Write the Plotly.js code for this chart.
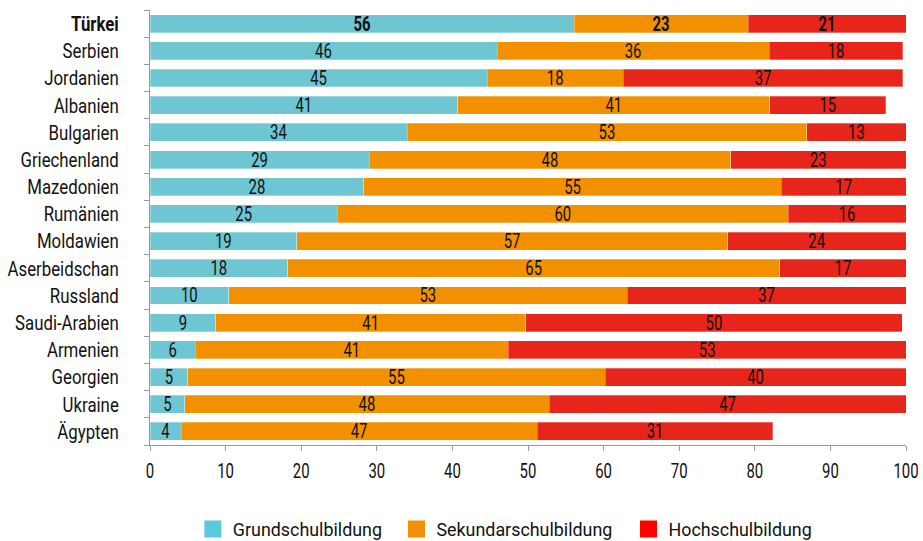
<!DOCTYPE html>
<html>
<head>
<meta charset="utf-8">
<script src="https://cdn.plot.ly/plotly-3.0.1.min.js"></script>
<style>
  html, body { margin: 0; padding: 0; background: #ffffff; }
  #chart { width: 923px; height: 541px; }
</style>
</head>
<body>
<div id="chart"></div>
<script>
// Categories (top to bottom)
const countries = ["Türkei", "Serbien", "Jordanien", "Albanien", "Bulgarien", "Griechenland",
  "Mazedonien", "Rumänien", "Moldawien", "Aserbeidschan", "Russland", "Saudi-Arabien",
  "Armenien", "Georgien", "Ukraine", "Ägypten"];

// Shares in percent
const grundschule = [56.1, 45.9, 44.6, 40.7, 34.0, 29.0, 28.3, 24.8, 19.4, 18.2, 10.4, 8.7, 6.0, 5.0, 4.6, 4.1];
const sekundar    = [23.0, 36.0, 18.0, 41.3, 52.9, 47.8, 55.2, 59.6, 57.0, 65.1, 52.7, 41.0, 41.4, 55.2, 48.2, 47.1];
const hochschule  = [20.9, 17.7, 37.0, 15.3, 13.1, 23.2, 16.5, 15.6, 23.6, 16.7, 36.9, 49.8, 52.6, 39.8, 47.2, 31.2];

const seriesNames = ["Grundschulbildung", "Sekundarschulbildung", "Hochschulbildung"];
const xTicks = [0, 10, 20, 30, 40, 50, 60, 70, 80, 90, 100];

const highlight = "Türkei";
const barColors = ["#6EC6D2", "#F39000", "#E8251A"];
const legendColors = ["#5BC8DC", "#F39000", "#FF0000"];
const FONT = "Roboto, 'Liberation Sans', sans-serif";

function labels(vals) {
  return vals.map((v, i) => countries[i] === highlight ? "<b>" + Math.round(v) + "</b>" : String(Math.round(v)));
}

const data = [grundschule, sekundar, hochschule].map((vals, k) => ({
  type: "bar",
  orientation: "h",
  name: seriesNames[k],
  y: countries,
  x: vals,
  text: labels(vals),
  texttemplate: "%{text}",
  textposition: "inside",
  insidetextanchor: "middle",
  constraintext: "none",
  textangle: 0,
  textfont: { family: FONT, size: 21, color: "#111111" },
  marker: { color: barColors[k], line: { width: 0.6, color: "rgba(255,255,255,0.5)" } },
  hoverinfo: "none"
}));

const layout = {
  width: 923,
  height: 541,
  barmode: "stack",
  bargap: 0.34,
  paper_bgcolor: "#ffffff",
  plot_bgcolor: "#ffffff",
  margin: { l: 150, r: 16.5, t: 10.4, b: 95.7 },
  font: { family: FONT, size: 21, color: "#111111" },
  showlegend: true,
  legend: {
    orientation: "h",
    x: 0.476, xanchor: "center",
    yref: "container", y: 0.022, yanchor: "middle",
    font: { family: FONT, size: 19, color: "#111111" },
    itemwidth: 30,
    tracegroupgap: 0,
    traceorder: "normal"
  },
  xaxis: {
    range: [0, 100],
    tickvals: xTicks,
    ticktext: xTicks.map(String),
    ticks: "outside",
    ticklen: 5,
    tickcolor: "#999999",
    showline: true,
    linecolor: "#999999",
    linewidth: 1,
    showgrid: false,
    zeroline: false,
    tickfont: { family: FONT, size: 21, color: "#111111" },
    ticklabelstandoff: 2,
    ticklabeloverflow: "allow",
    fixedrange: true
  },
  yaxis: {
    autorange: "reversed",
    type: "category",
    tickvals: countries,
    ticktext: countries.map(c => c === highlight ? "<b>" + c + "</b>" : c),
    ticks: "outside",
    tickson: "boundaries",
    ticklen: 5,
    tickcolor: "#999999",
    showline: true,
    linecolor: "#999999",
    linewidth: 1,
    showgrid: false,
    zeroline: false,
    tickfont: { family: FONT, size: 21, color: "#111111" },
    ticklabelstandoff: 26,
    fixedrange: true
  }
};

const gd = document.getElementById("chart");
Plotly.newPlot(gd, data, layout, { displayModeBar: false, staticPlot: true }).then(() => {
  // Condensed look: compress glyphs horizontally (text stays real text)
  gd.querySelectorAll("text").forEach(t => {
    const s = t.textContent.trim();
    if (!s) return;
    let k;
    if (t.classList.contains("legendtext")) k = 0.94;
    else if (/^\d+$/.test(s)) k = 0.71;
    else k = 0.80;
    const len = t.getComputedTextLength();
    t.setAttribute("textLength", (len * k).toFixed(2));
    t.setAttribute("lengthAdjust", "spacingAndGlyphs");
  });
  gd.querySelectorAll(".legendpoints path").forEach((p, i) => {
    p.setAttribute("d", "M8.5,8.5H-8.5V-8.5H8.5Z");
    p.style.fill = legendColors[i % legendColors.length];
    p.style.stroke = "none";
  });
});
</script>
</body>
</html>
